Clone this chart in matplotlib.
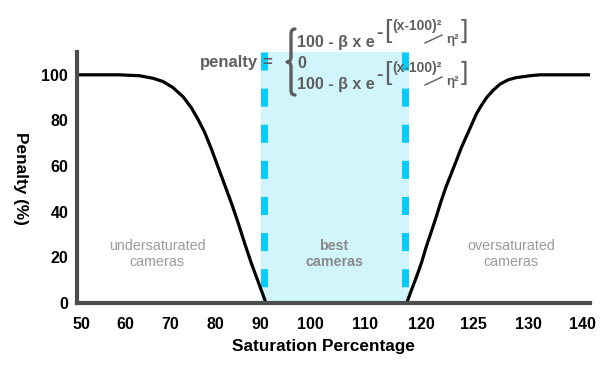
import numpy as np
import matplotlib
matplotlib.use("Agg")
import matplotlib.pyplot as plt
from matplotlib.path import Path
from matplotlib.patches import PathPatch
from matplotlib.lines import Line2D

# ---------------- data ----------------
x_ticks = [50, 60, 70, 80, 90, 100, 110, 120, 125, 130, 140]
y_ticks = [0, 20, 40, 60, 80, 100]

saturation = [49.0, 58.7, 63.2, 66.2, 68.4, 70.6, 72.9, 74.7, 76.2, 77.7, 79.2, 80.7, 82.2, 83.7,
              85.2, 86.6, 88.1, 89.6, 91.2,
              117.45, 118.3, 119.2, 120.07, 120.5, 120.98, 121.46, 121.9, 122.4, 122.9, 123.4,
              123.9, 124.4, 124.9, 125.3, 125.8, 126.25, 126.85, 127.45, 128.2, 128.95, 130.4,
              132.2, 141.5]
penalty = [100, 100, 99.6, 98.5, 97.1, 94.5, 90.4, 85.7, 80.6, 74.8, 67.5, 59.5, 51.5, 43.5,
           34.8, 26.1, 17.3, 9.3, 0,
           0, 5.7, 11.5, 18.0, 24.6, 31.1, 37.7, 44.2, 50.8, 56.6, 62.4,
           68.3, 73.4, 78.5, 82.8, 86.9, 90.1, 93.3, 95.9, 97.8, 98.8, 99.6,
           100, 100]

best_range = [90.2, 117.9]
best_edges = [90.9, 117.1]

region_labels = ["undersaturated\ncameras", "best\ncameras", "oversaturated\ncameras"]

# ---------------- layout ----------------
W, H = 600, 366
tick_px = [81, 125, 170, 215, 260, 310, 365, 421, 473, 528, 582]
ext_v = [0] + x_ticks + [200]
ext_p = [81 - 50 * 4.475] + tick_px + [582 + 60 * 5.4]

def fwd(v):
    return np.interp(np.asarray(v, dtype=float), ext_v, ext_p)

def inv(p):
    return np.interp(np.asarray(p, dtype=float), ext_p, ext_v)

FONT = "Liberation Sans"
plt.rcParams['font.family'] = [FONT, 'DejaVu Sans']
plt.rcParams['lines.scale_dashes'] = False

fig = plt.figure(figsize=(W / 100, H / 100), dpi=100)
ax_l, ax_r, ax_t, ax_b = 76.5, 590, 52, 303
ax = fig.add_axes([ax_l / W, 1 - ax_b / H, (ax_r - ax_l) / W, (ax_b - ax_t) / H])
ax.set_xscale('function', functions=(fwd, inv))
ax.set_xlim(float(inv(ax_l)), float(inv(ax_r)))
ax.set_ylim(0, 110)

def fx(x):
    return x / W

def fy(y):
    return 1 - y / H

# shaded best region
ax.axvspan(best_range[0], best_range[1], color='#d0f6fc', lw=0, zorder=1)
for xe in best_edges:
    ax.plot([xe, xe], [110, 0], color='#00ccff', lw=5, dashes=[13, 13],
            dash_capstyle='butt', zorder=2)

ax.plot(saturation, penalty, color='black', lw=2.3, zorder=3,
        solid_capstyle='round', solid_joinstyle='round')

# axes styling
for s in ['top', 'right']:
    ax.spines[s].set_visible(False)
for s in ['left', 'bottom']:
    ax.spines[s].set_color('#4d4d4d')
    ax.spines[s].set_linewidth(3)
    ax.spines[s].set_capstyle('projecting')
    ax.spines[s].set_zorder(4)

ax.set_xticks(x_ticks)
ax.set_xticklabels([str(t) for t in x_ticks])
ax.set_yticks(y_ticks)
ax.set_yticklabels([str(t) for t in y_ticks])
ax.xaxis.set_minor_locator(matplotlib.ticker.NullLocator())
ax.tick_params(axis='x', length=0, pad=10, labelsize=11.5)
ax.tick_params(axis='y', length=0, pad=6, labelsize=11.5)
for lab in ax.get_xticklabels() + ax.get_yticklabels():
    lab.set_fontweight('bold')
    lab.set_color('black')

fig.text(fx(323), fy(347), "Saturation Percentage", ha='center', va='center',
         fontsize=12.4, fontweight='bold')
fig.text(fx(20), fy(178), "Penalty (%)", ha='center', va='center', rotation=270,
         fontsize=12.4, fontweight='bold')

# region labels
fig.text(fx(157), fy(254), region_labels[0], ha='center', va='center', fontsize=10.3,
         color='#9a9a9a', linespacing=1.15)
fig.text(fx(334), fy(254), region_labels[1], ha='center', va='center', fontsize=10.3,
         color='#8a8a8a', fontweight='bold', linespacing=1.15)
fig.text(fx(511), fy(254), region_labels[2], ha='center', va='center', fontsize=10.3,
         color='#9a9a9a', linespacing=1.15)

# formula
fc = '#5e5e5e'
fig.text(fx(258), fy(62), "penalty", ha='right', va='center', fontsize=12, fontweight='bold', color=fc)
fig.text(fx(262), fy(62), "=", ha='left', va='center', fontsize=12, fontweight='bold', color=fc)

# brace
bx, bt, bm, bb = 291, 29, 62, 95
verts = [(bx + 4, bt), (bx, bt), (bx, bt + 5), (bx, bm - 5), (bx, bm), (bx - 4, bm),
         (bx, bm), (bx, bm + 5), (bx, bb - 5), (bx, bb), (bx + 4, bb)]
codes = [Path.MOVETO, Path.CURVE3, Path.CURVE3, Path.LINETO, Path.CURVE3, Path.CURVE3,
         Path.CURVE3, Path.CURVE3, Path.LINETO, Path.CURVE3, Path.CURVE3]
verts_f = [(fx(x), fy(y)) for x, y in verts]
fig.patches.append(PathPatch(Path(verts_f, codes), transform=fig.transFigure, fill=False,
                             edgecolor=fc, lw=2.4, capstyle='round', joinstyle='round'))

fig.text(fx(297), fy(43), "100 - β x e", ha='left', va='center', fontsize=11.5, fontweight='bold', color=fc)
fig.text(fx(297), fy(63), "0", ha='left', va='center', fontsize=11.5, fontweight='bold', color=fc)
fig.text(fx(297), fy(84), "100 - β x e", ha='left', va='center', fontsize=11.5, fontweight='bold', color=fc)

for dy in [0, 42]:
    fig.text(fx(376), fy(34 + dy), "-", ha='left', va='center', fontsize=14, fontweight='bold', color=fc)
    fig.text(fx(384), fy(31 + dy), "[", ha='left', va='center', fontsize=19, color=fc)
    fig.text(fx(461), fy(31 + dy), "]", ha='left', va='center', fontsize=19, color=fc)
    fig.text(fx(392), fy(26 + dy), "(x-100)²", ha='left', va='center', fontsize=10, fontweight='bold', color=fc)
    fig.text(fx(446), fy(40 + dy), "η²", ha='left', va='center', fontsize=9.5, fontweight='bold', color=fc)
    fig.lines.append(Line2D([fx(425), fx(442)], [fy(43 + dy), fy(35 + dy)], transform=fig.transFigure,
                            color=fc, lw=1.0))

fig.savefig("out.png", dpi=100)
